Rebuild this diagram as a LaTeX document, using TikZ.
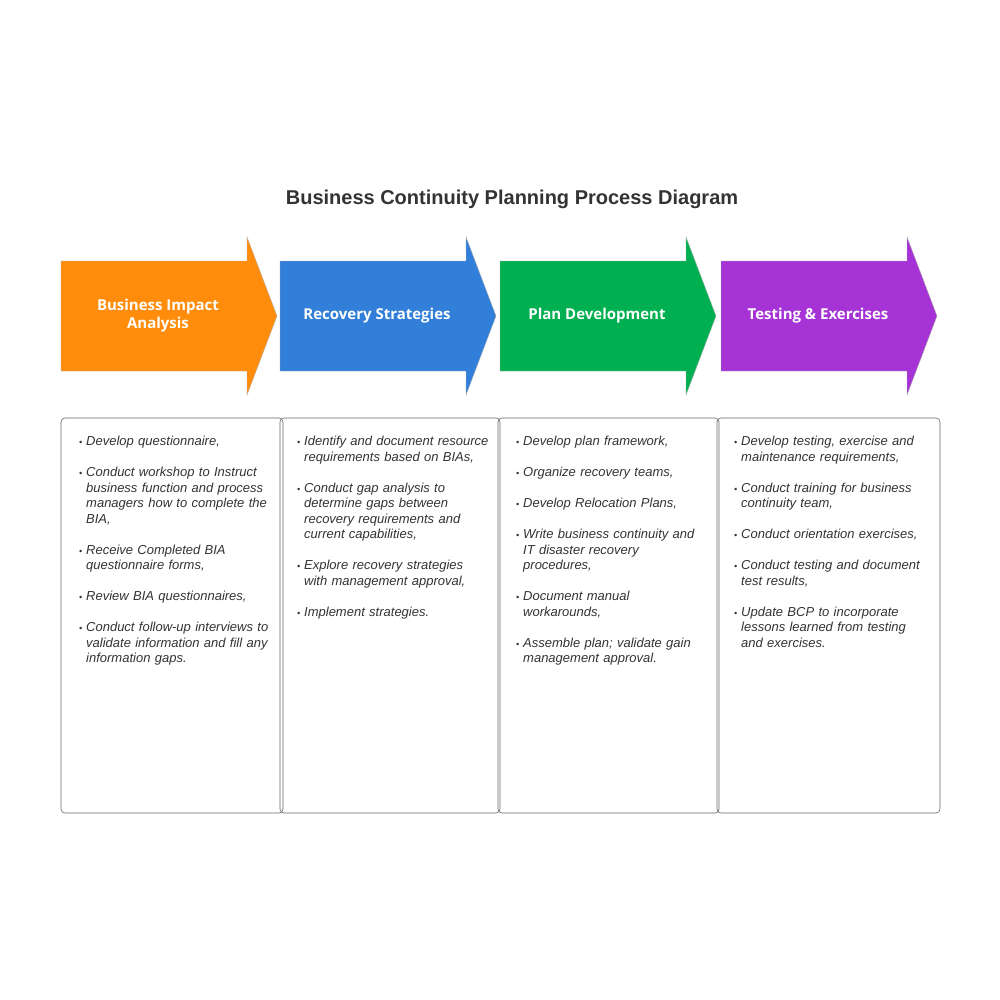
\documentclass[tikz,border=0pt]{standalone}
\usepackage{fontspec}
\setmainfont{Liberation Sans}
\newfontfamily\labelfont{Open Sans}
\usepackage{enumitem}
\definecolor{bciorange}{HTML}{FF8C0A}
\definecolor{bciblue}{HTML}{317FD9}
\definecolor{bcigreen}{HTML}{00B050}
\definecolor{bcipurple}{HTML}{A633D6}
\definecolor{bcitext}{HTML}{333333}
\tikzset{
  phase/.style={draw=gray!60, line width=0.4pt},
  phaselabel/.style={text=white, font=\labelfont\bfseries\fontsize{15}{18}\selectfont, align=center},
  taskbox/.style={draw=gray!80!black, line width=0.6pt, rounded corners=4pt},
  tasklist/.style={anchor=north west, text width=196pt, align=left, inner sep=0pt,
    text=bcitext, font=\itshape\fontsize{13}{15.5}\selectfont}
}
\newcommand{\tasks}[1]{\begin{itemize}[leftmargin=10pt,labelsep=4pt,itemsep=15.5pt,parsep=0pt,topsep=0pt,partopsep=0pt,label={\small\textbullet}]#1\end{itemize}}
\begin{document}
\begin{tikzpicture}[x=1pt,y=-1pt]
\useasboundingbox[fill=white] (0,0) rectangle (1000,1000);
\node (title) at (512,199) {\bfseries\fontsize{20}{24}\selectfont\color{bcitext}Business Continuity Planning Process Diagram};
% phase arrows
\foreach \x/\col/\name/\lbl in {61/bciorange/bia/{Business Impact\\Analysis},
                                280/bciblue/rec/Recovery Strategies,
                                500/bcigreen/dev/Plan Development,
                                721/bcipurple/test/Testing \& Exercises}{
  \fill[\col] (\x,261) -- ++(186,0) -- ++(0,-24) -- ++(30,79) -- ++(-30,79) -- ++(0,-24) -- (\x,371) -- cycle;
  \draw[phase] (\x,261) -- ++(186,0) -- ++(0,-24) -- ++(30,79) -- ++(-30,79) -- ++(0,-24) -- (\x,371) -- cycle;
  \node[phaselabel] (\name) at (\x+97,316) {\lbl};
}
% task boxes
\draw[taskbox] (61,418) rectangle (283,813);
\draw[taskbox] (280,418) rectangle (500,813);
\draw[taskbox] (498,418) rectangle (719,813);
\draw[taskbox] (717,418) rectangle (940,813);
\node[tasklist] (biatasks) at (76,430) {\tasks{
  \item Develop questionnaire,
  \item Conduct workshop to Instruct business function and process managers how to complete the BIA,
  \item Receive Completed BIA questionnaire forms,
  \item Review BIA questionnaires,
  \item Conduct follow-up interviews to validate information and fill any information gaps.}};
\node[tasklist] (rectasks) at (294,430) {\tasks{
  \item Identify and document resource requirements based on BIAs,
  \item Conduct gap analysis to determine gaps between recovery requirements and current capabilities,
  \item Explore recovery strategies with management approval,
  \item Implement strategies.}};
\node[tasklist] (devtasks) at (513,430) {\tasks{
  \item Develop plan framework,
  \item Organize recovery teams,
  \item Develop Relocation Plans,
  \item Write business continuity and IT disaster recovery procedures,
  \item Document manual workarounds,
  \item Assemble plan; validate gain management approval.}};
\node[tasklist] (testtasks) at (731,430) {\tasks{
  \item Develop testing, exercise and maintenance requirements,
  \item Conduct training for business continuity team,
  \item Conduct orientation exercises,
  \item Conduct testing and document test results,
  \item Update BCP to incorporate lessons learned from testing and exercises.}};
\end{tikzpicture}
\end{document}
